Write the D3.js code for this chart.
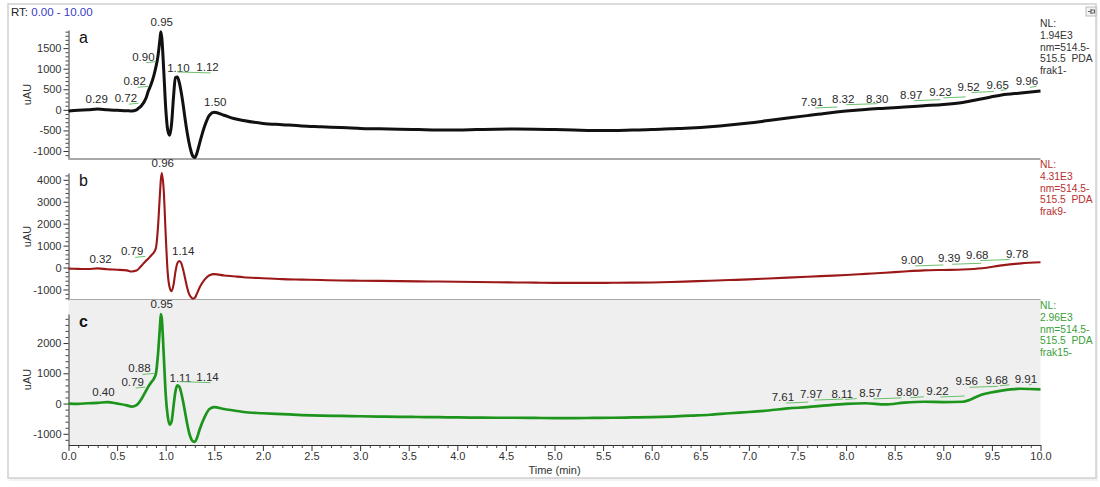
<!DOCTYPE html>
<html>
<head>
<meta charset="utf-8">
<script src="https://cdn.jsdelivr.net/npm/d3@7"></script>
<style>
  body { margin: 0; background: #fff; }
  svg { display: block; font-family: "Liberation Sans", Arial, sans-serif; }
</style>
</head>
<body>
<svg id="chart" width="1100" height="487"></svg>
<script>
// ---- Chromatogram traces: [retention time (min), signal (uAU)] ----
const traceA = [[0,-30],[0.1,-10],[0.2,0],[0.3,20],[0.4,0],[0.5,-10],[0.6,-20],[0.65,-30],[0.7,0],[0.72,40],[0.75,100],[0.8,300],[0.82,450],[0.85,620],[0.88,850],[0.9,1050],[0.92,1300],[0.94,1700],[0.95,1900],[0.96,1750],[0.98,950],[1.0,50],[1.02,-480],[1.04,-620],[1.06,-350],[1.08,300],[1.1,780],[1.12,800],[1.14,660],[1.16,420],[1.18,120],[1.2,-230],[1.22,-540],[1.24,-800],[1.26,-1000],[1.28,-1130],[1.3,-1160],[1.32,-1060],[1.35,-800],[1.4,-400],[1.45,-130],[1.5,-60],[1.6,-130],[1.7,-210],[1.8,-260],[2.0,-330],[2.2,-360],[2.4,-390],[2.6,-410],[2.8,-430],[3.0,-450],[3.2,-460],[3.4,-470],[3.6,-480],[3.8,-490],[4.0,-490],[4.2,-480],[4.4,-470],[4.6,-465],[4.8,-470],[5.0,-480],[5.2,-490],[5.4,-500],[5.6,-500],[5.8,-490],[6.0,-480],[6.2,-460],[6.4,-440],[6.6,-410],[6.8,-370],[7.0,-320],[7.2,-260],[7.4,-200],[7.6,-140],[7.8,-80],[8.0,-30],[8.2,10],[8.4,40],[8.6,70],[8.8,100],[9.0,130],[9.2,180],[9.4,270],[9.6,360],[9.8,410],[10.0,460]];

const traceB = [[0,-50],[0.1,-60],[0.2,-70],[0.3,-40],[0.4,-80],[0.5,-100],[0.6,-130],[0.65,-180],[0.7,-140],[0.75,80],[0.79,280],[0.82,400],[0.85,550],[0.88,700],[0.9,900],[0.92,1800],[0.94,3300],[0.95,4000],[0.96,4310],[0.98,3500],[1.0,1500],[1.02,-200],[1.04,-900],[1.06,-1080],[1.08,-800],[1.1,-200],[1.12,200],[1.14,300],[1.16,200],[1.18,-100],[1.2,-500],[1.22,-900],[1.24,-1200],[1.26,-1350],[1.28,-1420],[1.3,-1380],[1.32,-1200],[1.35,-900],[1.4,-550],[1.45,-350],[1.5,-300],[1.6,-360],[1.7,-400],[1.8,-440],[2.0,-490],[2.2,-530],[2.4,-550],[2.6,-570],[2.8,-590],[3.0,-600],[3.2,-610],[3.4,-620],[3.6,-630],[3.8,-640],[4.0,-650],[4.2,-660],[4.4,-670],[4.6,-680],[4.8,-690],[5.0,-700],[5.2,-700],[5.4,-700],[5.6,-695],[5.8,-690],[6.0,-680],[6.2,-660],[6.4,-630],[6.6,-600],[6.8,-570],[7.0,-540],[7.2,-500],[7.4,-460],[7.6,-420],[7.8,-380],[8.0,-340],[8.2,-290],[8.4,-240],[8.6,-180],[8.8,-130],[9.0,-110],[9.2,-90],[9.4,-30],[9.6,100],[9.8,190],[10.0,240]];

const traceC = [[0,0],[0.1,-10],[0.2,10],[0.3,20],[0.4,50],[0.5,0],[0.6,-60],[0.65,-100],[0.7,-50],[0.75,150],[0.79,380],[0.82,550],[0.85,700],[0.88,830],[0.9,1000],[0.92,1600],[0.94,2500],[0.95,2960],[0.96,2800],[0.98,1600],[1.0,300],[1.02,-400],[1.04,-700],[1.06,-600],[1.08,-100],[1.1,400],[1.12,600],[1.14,560],[1.16,350],[1.18,50],[1.2,-300],[1.22,-650],[1.24,-950],[1.26,-1150],[1.28,-1250],[1.3,-1270],[1.32,-1150],[1.35,-850],[1.4,-450],[1.45,-180],[1.5,-120],[1.6,-180],[1.7,-230],[1.8,-280],[2.0,-320],[2.2,-350],[2.4,-380],[2.6,-400],[2.8,-410],[3.0,-420],[3.2,-430],[3.4,-440],[3.6,-445],[3.8,-450],[4.0,-460],[4.2,-465],[4.4,-470],[4.6,-470],[4.8,-475],[5.0,-480],[5.2,-480],[5.4,-475],[5.6,-470],[5.8,-460],[6.0,-450],[6.2,-430],[6.4,-400],[6.6,-370],[6.8,-320],[7.0,-280],[7.2,-230],[7.4,-160],[7.6,-120],[7.8,-60],[8.0,-10],[8.2,10],[8.4,-30],[8.6,30],[8.8,60],[9.0,50],[9.2,60],[9.4,300],[9.6,430],[9.8,490],[10.0,470]];

// ---- Annotated peak retention times ----
const peaksA = [0.29,0.72,0.82,0.90,0.95,1.10,1.12,1.50,7.91,8.32,8.30,8.97,9.23,9.52,9.65,9.96];
const peaksB = [0.32,0.79,0.96,1.14,9.00,9.39,9.68,9.78];
const peaksC = [0.40,0.79,0.88,0.95,1.11,1.14,7.61,7.97,8.11,8.57,8.80,9.22,9.56,9.68,9.91];

// where each peak label is centred along the time axis (labels are pushed aside to avoid overlaps)
const labelAtA = [0.29,0.59,0.68,0.77,0.96,1.13,1.43,1.51,7.65,7.97,8.32,8.67,8.97,9.26,9.56,9.86];
const labelAtB = [0.33,0.655,0.97,1.18,8.68,9.06,9.35,9.76];
const labelAtC = [0.36,0.66,0.73,0.96,1.15,1.43,7.35,7.64,7.96,8.25,8.63,8.94,9.24,9.55,9.85];

// ---- Axis ticks ----
const xMajorTicks = d3.range(0, 10.001, 0.5);
const xMinorTicks = d3.range(0, 10.001, 0.1);
const yTicksA = [-1000,-500,0,500,1000,1500];
const yTicksB = [-1000,0,1000,2000,3000,4000];
const yTicksC = [-1000,0,1000,2000];

// ---- Header info per trace ----
const normLevels = ["1.94E3","4.31E3","2.96E3"];
const fileNames = ["frak1-","frak9-","frak15-"];
const panelLetters = ["a","b","c"];

const svg = d3.select("#chart");

// window frame
svg.append("rect").attr("x", 9).attr("y", 6).attr("width", 1089).attr("height", 475)
  .attr("fill", "#ededed").attr("opacity", 0.7);
svg.append("rect").attr("x", 8).attr("y", 4).attr("width", 1088).attr("height", 474)
  .attr("fill", "#fff").attr("stroke", "#d0d0d0").attr("stroke-width", 1.5);

// range label
const rtText = svg.append("text").attr("x", 11).attr("y", 16).attr("font-size", 11.5);
rtText.append("tspan").attr("fill", "#222").text("RT: ");
rtText.append("tspan").attr("fill", "#3a3ac0").text("0.00 - 10.00");

// pin icon
const pin = svg.append("g").attr("transform", "translate(1086,7)");
pin.append("rect").attr("x", 0).attr("y", 0).attr("width", 10).attr("height", 9).attr("fill", "#f3f3f3").attr("stroke", "#bbb");
pin.append("path").attr("d", "M2,4.5H5M5,2V7M5,3H8.5V6H5").attr("stroke", "#666").attr("fill", "none").attr("stroke-width", 1.2);

const x = d3.scaleLinear().domain([0, 10]).range([68.5, 1040.5]);

const panels = [
  { trace: traceA, peaks: peaksA, at: labelAtA, ticks: yTicksA, minorStep: 100,
    domain: [-1194, 1940], top: 30, bottom: 159, stroke: "#111", width: 3,
    info: "#333", textTop: 27, bg: null },
  { trace: traceB, peaks: peaksB, at: labelAtB, ticks: yTicksB, minorStep: 200,
    domain: [-1480, 4310], top: 173, bottom: 300, stroke: "#9b1818", width: 2.1,
    info: "#b83030", textTop: 168, bg: null },
  { trace: traceC, peaks: peaksC, at: labelAtC, ticks: yTicksC, minorStep: 200,
    domain: [-1370, 2960], top: 314, bottom: 445, stroke: "#1d951d", width: 2.7,
    info: "#3aa03a", textTop: 309, bg: "#efefef" }
];

function valueAt(trace, t) {
  const i = d3.bisector(d => d[0]).left(trace, t);
  if (i <= 0) return trace[0][1];
  if (i >= trace.length) return trace[trace.length - 1][1];
  const a = trace[i - 1], b = trace[i];
  return a[1] + (b[1] - a[1]) * (t - a[0]) / (b[0] - a[0]);
}

panels.forEach((p, k) => {
  const g = svg.append("g");
  const y = d3.scaleLinear().domain(p.domain).range([p.bottom, p.top]);

  if (p.bg) {
    g.append("rect").attr("x", x(0)).attr("y", 300).attr("width", x(10) - x(0)).attr("height", p.bottom - 300)
      .attr("fill", p.bg);
  }

  // minor y ticks
  const minor = d3.range(Math.ceil(p.domain[0] / p.minorStep) * p.minorStep, p.domain[1], p.minorStep)
    .filter(v => !p.ticks.includes(v));
  g.append("g").attr("transform", `translate(${x(0)},0)`)
    .call(d3.axisLeft(y).tickValues(minor).tickSize(3).tickSizeOuter(0).tickFormat(""))
    .call(s => s.select(".domain").remove())
    .call(s => s.selectAll("line").attr("stroke", "#444"));

  // major y ticks
  g.append("g").attr("transform", `translate(${x(0)},0)`)
    .call(d3.axisLeft(y).tickValues(p.ticks).tickSize(5).tickSizeOuter(0).tickFormat(d => String(d)))
    .call(s => s.select(".domain").attr("stroke", "#333"))
    .call(s => s.selectAll("line").attr("stroke", "#333"))
    .call(s => s.selectAll("text").attr("font-size", 11).attr("fill", "#333")
      .attr("font-family", "'Liberation Sans', Arial, sans-serif").attr("dx", 1));

  // y-axis title
  g.append("text").attr("transform", `translate(31,${(p.top + p.bottom) / 2}) rotate(-90)`)
    .attr("text-anchor", "middle").attr("font-size", 11).attr("fill", "#333").text("uAU");

  // panel letter
  g.append("text").attr("x", 79).attr("y", p.top + 13).attr("font-size", 16).attr("fill", "#111")
    .attr("font-weight", k === 2 ? "bold" : "normal").text(panelLetters[k]);

  // separator below the upper panels
  if (k < 2) {
    g.append("line").attr("x1", x(0)).attr("x2", x(10)).attr("y1", p.bottom).attr("y2", p.bottom)
      .attr("stroke", "#a8a8a8").attr("stroke-width", 2);
  }

  // trace
  const line = d3.line().x(d => x(d[0])).y(d => y(d[1])).curve(d3.curveMonotoneX);
  g.append("path").datum(p.trace).attr("d", line).attr("fill", "none")
    .attr("stroke", p.stroke).attr("stroke-width", p.width).attr("stroke-linejoin", "round");

  // peak labels with leader lines
  p.peaks.forEach((t, i) => {
    const v = valueAt(p.trace, t);
    const py = y(v) - 5;
    const lx = x(p.at[i]);
    if (Math.abs(lx - x(t)) > 5) {
      g.append("line").attr("x1", lx + 3).attr("x2", x(t)).attr("y1", py + 1).attr("y2", py)
        .attr("stroke", "#6cc06c").attr("stroke-width", 1);
    }
    g.append("text").attr("x", lx).attr("y", py - 1).attr("text-anchor", "middle")
      .attr("font-size", 11.5).attr("fill", "#2a2a2a").text(t.toFixed(2));
  });

  // trace header info
  const info = ["NL:", normLevels[k], "nm=514.5-", "515.5  PDA", fileNames[k]];
  info.forEach((s, j) => {
    g.append("text").attr("x", 1040).attr("y", p.textTop + j * 11.8).attr("font-size", 10.3)
      .attr("fill", p.info).attr("xml:space", "preserve").style("white-space", "pre").text(s);
  });

  // time axis on the bottom panel
  if (k === 2) {
    g.append("g").attr("transform", `translate(0,${p.bottom})`)
      .call(d3.axisBottom(x).tickValues(xMinorTicks.filter((d, i) => i % 5 !== 0)).tickSize(3).tickSizeOuter(0).tickFormat(""))
      .call(s => s.select(".domain").remove())
      .call(s => s.selectAll("line").attr("stroke", "#444"));
    g.append("g").attr("transform", `translate(0,${p.bottom})`)
      .call(d3.axisBottom(x).tickValues(xMajorTicks).tickSize(6).tickSizeOuter(0).tickFormat(d3.format(".1f")))
      .call(s => s.select(".domain").attr("stroke", "#333"))
      .call(s => s.selectAll("line").attr("stroke", "#333"))
      .call(s => s.selectAll("text").attr("font-size", 11).attr("fill", "#333")
        .attr("font-family", "'Liberation Sans', Arial, sans-serif").attr("dy", "0.5em"));
    g.append("text").attr("x", x(5)).attr("y", 474).attr("text-anchor", "middle")
      .attr("font-size", 11).attr("fill", "#333").text("Time (min)");
  }
});
</script>
</body>
</html>
